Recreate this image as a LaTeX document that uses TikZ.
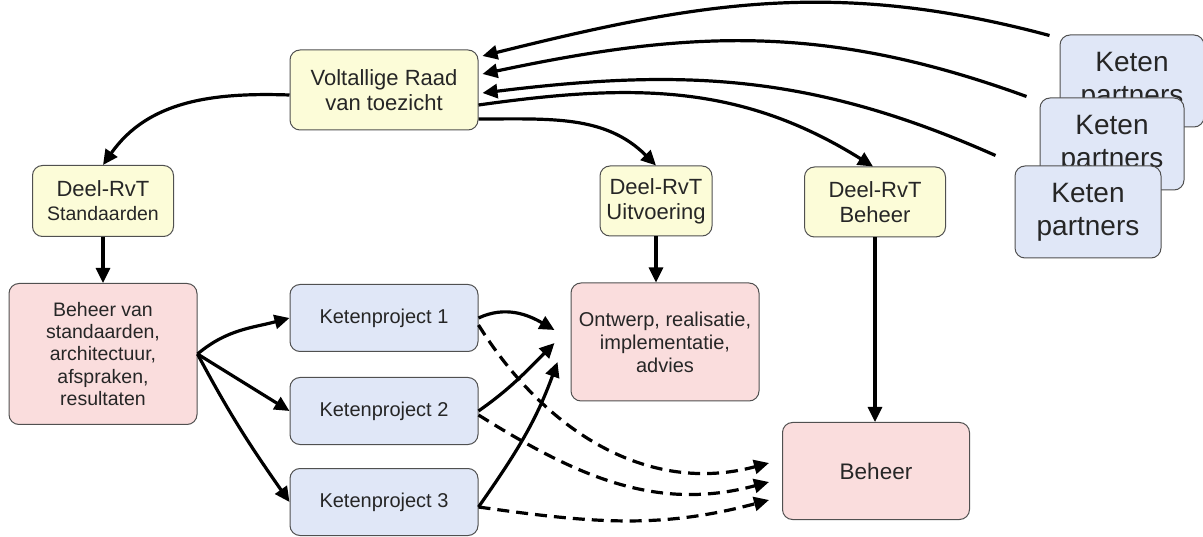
\documentclass[tikz,border=0pt]{standalone}
\usepackage{fontspec}
\setmainfont{Liberation Sans}
\usepackage{tikz}
\usetikzlibrary{calc, shapes, arrows.meta}
\definecolor{rvtgeel}{RGB}{252,252,216}
\definecolor{rvtroze}{RGB}{250,221,221}
\definecolor{rvtblauw}{RGB}{224,231,247}
\definecolor{rand}{RGB}{80,80,80}
\tikzstyle{blok} = [rectangle, draw=rand, line width=1pt, text centered, align=center, rounded corners=10pt, text=black!85, inner sep=0pt]
\tikzstyle{rvt} = [blok, fill=rvtgeel]
\tikzstyle{werk} = [blok, fill=rvtroze]
\tikzstyle{project} = [blok, fill=rvtblauw]
\tikzstyle{pijl} = [line width=3.2pt, -{Triangle[length=15pt,width=14pt]}]
\tikzstyle{stippel} = [pijl, dash pattern=on 12pt off 7pt]

\begin{document}
\begin{tikzpicture}[x=1pt, y=1pt]
        \useasboundingbox (0,0) rectangle (1203,-537);

        \node[rvt, minimum width=188pt, minimum height=80pt, font=\fontsize{22}{25}\selectfont] at (384, -90) (VoltalligeRaad) {Voltallige Raad\\van toezicht};
        \node[rvt, minimum width=141pt, minimum height=71pt, font=\fontsize{22}{24}\selectfont] at (103, -201) (DeelStandaarden) {Deel-RvT\\{\fontsize{19.5}{22}\selectfont Standaarden}};
        \node[rvt, minimum width=112pt, minimum height=70pt, font=\fontsize{22}{25}\selectfont] at (656, -201) (DeelUitvoering) {Deel-RvT\\Uitvoering};
        \node[rvt, minimum width=141pt, minimum height=70pt, font=\fontsize{22}{25}\selectfont] at (875, -202) (DeelBeheer) {Deel-RvT\\Beheer};

        \node[werk, minimum width=188pt, minimum height=141pt, font=\fontsize{19.5}{22.3}\selectfont] at (103, -354) (BeheerStandaarden) {Beheer van\\standaarden,\\architectuur,\\afspraken,\\resultaten};
        \node[werk, minimum width=188pt, minimum height=118pt, font=\fontsize{20}{23}\selectfont] at (665, -342) (Ontwerp) {Ontwerp, realisatie,\\implementatie,\\advies};
        \node[werk, minimum width=187pt, minimum height=97pt, font=\fontsize{22.5}{26}\selectfont] at (876, -471) (Beheer) {Beheer};

        \node[project, minimum width=188pt, minimum height=67pt, font=\fontsize{20}{24}\selectfont] at (384, -318) (Ketenproject1) {Ketenproject 1};
        \node[project, minimum width=188pt, minimum height=67pt, font=\fontsize{20}{24}\selectfont] at (384, -411) (Ketenproject2) {Ketenproject 2};
        \node[project, minimum width=188pt, minimum height=67pt, font=\fontsize{20}{24}\selectfont] at (384, -502) (Ketenproject3) {Ketenproject 3};

        \node[project, minimum width=144pt, minimum height=92pt, font=\fontsize{28}{33}\selectfont] at (1132, -81) (KetenA) {Keten\\partners};
        \node[project, minimum width=144pt, minimum height=92pt, font=\fontsize{28}{33}\selectfont] at (1112, -144) (KetenB) {Keten\\partners};
        \node[project, minimum width=146pt, minimum height=92pt, font=\fontsize{28}{33}\selectfont] at (1088, -212) (KetenC) {Keten\\partners};

        \coordinate (KetenUitA) at ($(KetenA.north west)+(-10, -1)$);
        \coordinate (KetenUitB) at ($(KetenB.north west)+(-13, 1)$);
        \coordinate (KetenUitC) at ($(KetenC.north west)+(-19, 10)$);
        \coordinate (OntwerpIn1) at ($(Ontwerp.west)+(-16, 12)$);
        \coordinate (OntwerpIn2) at ($(Ontwerp.west)+(-16, -1)$);
        \coordinate (OntwerpIn3) at ($(Ontwerp.west)+(-13, -20)$);
        \coordinate (BeheerIn1) at ($(Beheer.west)+(-13, 8)$);
        \coordinate (BeheerIn2) at ($(Beheer.west)+(-13, -11)$);
        \coordinate (BeheerIn3) at ($(Beheer.west)+(-13, -29)$);

        \draw[pijl] (KetenUitA) to[out=165, in=14] ([xshift=4pt, yshift=34pt]VoltalligeRaad.east);
        \draw[pijl] (KetenUitB) to[out=160, in=12] ([xshift=4pt, yshift=16pt]VoltalligeRaad.east);
        \draw[pijl] (KetenUitC) to[out=156, in=7] ([xshift=4pt, yshift=-3pt]VoltalligeRaad.east);

        \draw[pijl] ([yshift=-5pt]VoltalligeRaad.west) to[out=178, in=55] (DeelStandaarden.north);
        \draw[pijl] ([yshift=-29pt]VoltalligeRaad.east) to[out=0, in=135] (DeelUitvoering.north);
        \draw[pijl] ([yshift=-15pt]VoltalligeRaad.east) to[out=8, in=148] ([xshift=-2pt]DeelBeheer.north);

        \draw[pijl] (DeelStandaarden) -- (BeheerStandaarden);
        \draw[pijl] (DeelUitvoering.south) -- (DeelUitvoering.south |- Ontwerp.north);
        \draw[pijl] (DeelBeheer) -- (DeelBeheer.south |- Beheer.north);

        \draw[pijl] (BeheerStandaarden.east) to[out=40, in=195] (Ketenproject1.west);
        \draw[pijl] (BeheerStandaarden.east) -- (Ketenproject2.west);
        \draw[pijl] (BeheerStandaarden.east) to[out=-62, in=125] (Ketenproject3.west);

        \draw[pijl] (Ketenproject1.east) to[out=25, in=150] (OntwerpIn1);
        \draw[pijl] (Ketenproject2.east) to[out=35, in=225] (OntwerpIn2);
        \draw[pijl] ([yshift=-5pt]Ketenproject3.east) to[out=55, in=250] (OntwerpIn3);

        \draw[stippel] ([yshift=-7pt]Ketenproject1.east) to[out=-58, in=195] (BeheerIn1);
        \draw[stippel] ([yshift=-4pt]Ketenproject2.east) to[out=-32, in=195] (BeheerIn2);
        \draw[stippel] ([yshift=-5pt]Ketenproject3.east) to[out=-8, in=195] (BeheerIn3);

    \end{tikzpicture}
\end{document}
